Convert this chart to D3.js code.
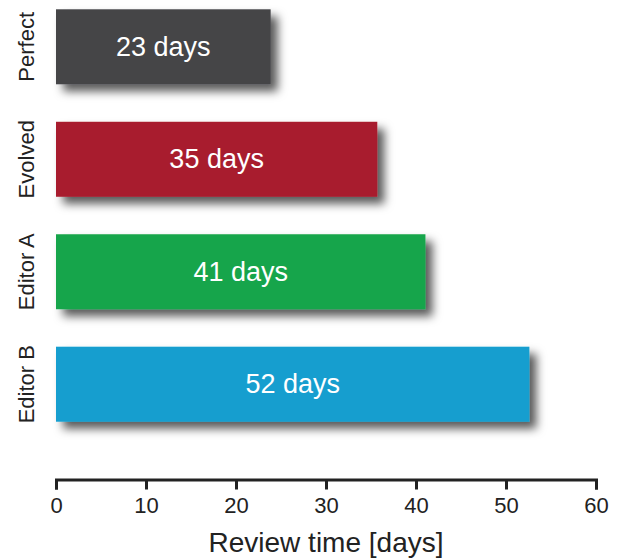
<!DOCTYPE html>
<html>
<head>
<meta charset="utf-8">
<script src="https://cdn.jsdelivr.net/npm/d3@7"></script>
<style>
  html, body { margin: 0; padding: 0; background: #fff; }
  svg { display: block; }
  text { font-family: "Liberation Sans", Arial, sans-serif; }
</style>
</head>
<body>
<svg id="chart" width="621" height="559"></svg>
<script>
const categories = ["Perfect", "Evolved", "Editor A", "Editor B"];
const values = [23.85, 35.7, 41.05, 52.6];
const barLabels = ["23 days", "35 days", "41 days", "52 days"];
const colors = ["#444447", "#a81c2e", "#18a54b", "#149ecf"];
const xTicks = [0, 10, 20, 30, 40, 50, 60];
const xTitle = "Review time [days]";

const svg = d3.select("#chart");

const x = d3.scaleLinear().domain([0, 60]).range([56, 596]);
const y = d3.scaleBand().domain(categories).range([9.3, 421.7])
  .paddingInner(1/3).paddingOuter(0);

const defs = svg.append("defs");
const f = defs.append("filter").attr("id", "shadow")
  .attr("x", "-10%").attr("y", "-30%").attr("width", "130%").attr("height", "180%");
f.append("feDropShadow").attr("dx", 7).attr("dy", 7)
  .attr("stdDeviation", 5).attr("flood-color", "#000").attr("flood-opacity", 0.65);

const data = categories.map((c, i) => ({ c, v: values[i], label: barLabels[i], color: colors[i] }));

svg.append("g").selectAll("rect").data(data).join("rect")
  .attr("x", x(0))
  .attr("y", d => y(d.c))
  .attr("width", d => x(d.v) - x(0))
  .attr("height", y.bandwidth())
  .attr("fill", d => d.color)
  .attr("filter", "url(#shadow)");

svg.append("g").selectAll("text").data(data).join("text")
  .attr("x", d => (x(0) + x(d.v)) / 2)
  .attr("y", d => y(d.c) + y.bandwidth() / 2)
  .attr("dy", "0.33em")
  .attr("text-anchor", "middle")
  .attr("fill", "#fff")
  .attr("font-size", 27)
  .text(d => d.label);

// category labels (rotated)
svg.append("g").selectAll("text").data(data).join("text")
  .attr("transform", d => `translate(33.5,${y(d.c) + y.bandwidth() / 2}) rotate(-90)`)
  .attr("text-anchor", "middle")
  .attr("fill", "#222")
  .attr("font-size", 22)
  .text(d => d.c);

// x axis
const axis = d3.axisBottom(x).tickValues(xTicks).tickSize(10).tickPadding(8).tickFormat(d3.format("d"));
const gx = svg.append("g").attr("transform", "translate(0,479.5)").call(axis);
gx.select(".domain").attr("stroke", "#222").attr("stroke-width", 3);
gx.selectAll(".tick line").attr("stroke", "#222").attr("stroke-width", 3);
gx.selectAll(".tick text").attr("fill", "#222").attr("font-size", 22)
  .attr("font-family", "'Liberation Sans', Arial, sans-serif");

svg.append("text")
  .attr("x", (x(0) + x(60)) / 2)
  .attr("y", 551.5)
  .attr("text-anchor", "middle")
  .attr("fill", "#222")
  .attr("font-size", 28)
  .text(xTitle);
</script>
</body>
</html>
